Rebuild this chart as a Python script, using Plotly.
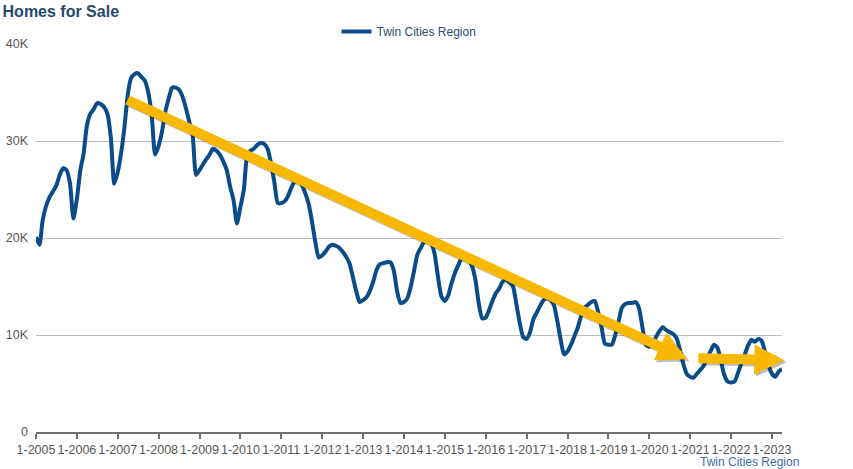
import plotly.graph_objects as go
import pandas as pd

series_name = "Twin Cities Region"
start_month = "2005-01-01"

# Homes for sale (thousands), by month
v2005 = [20.1, 19.3, 21.8, 23.3, 24.2, 24.8, 25.4, 26.5, 27.2, 27.0, 25.6, 22.0]
v2006 = [24.0, 27.0, 28.6, 31.6, 32.8, 33.3, 33.9, 33.8, 33.5, 32.8, 30.3, 25.6]
v2007 = [26.8, 28.8, 31.3, 34.8, 36.5, 36.9, 37.0, 36.6, 36.2, 35.0, 32.6, 28.6]
v2008 = [29.5, 31.0, 33.0, 34.4, 35.5, 35.5, 35.3, 34.6, 33.4, 32.0, 30.5, 26.5]
v2009 = [27.0, 27.6, 28.1, 28.6, 29.2, 29.0, 28.6, 27.9, 27.0, 25.3, 23.9, 21.5]
v2010 = [23.2, 25.0, 28.4, 29.0, 29.2, 29.6, 29.8, 29.7, 29.2, 27.7, 25.7, 23.6]
v2011 = [23.6, 23.8, 24.3, 25.2, 25.8, 25.9, 25.5, 24.7, 23.6, 21.8, 19.6, 18.0]
v2012 = [18.2, 18.6, 19.1, 19.3, 19.2, 19.0, 18.6, 18.1, 17.4, 16.0, 14.5, 13.4]
v2013 = [13.6, 13.9, 14.5, 15.5, 16.7, 17.3, 17.4, 17.5, 17.5, 16.7, 14.5, 13.3]
v2014 = [13.4, 13.8, 14.9, 16.6, 18.3, 19.0, 19.6, 19.8, 19.5, 18.4, 16.0, 14.0]
v2015 = [13.5, 14.1, 15.3, 16.4, 17.2, 17.9, 18.0, 17.7, 17.1, 15.7, 13.2, 11.7]
v2016 = [11.8, 12.6, 13.5, 14.3, 14.8, 15.5, 15.7, 15.4, 15.0, 13.2, 11.2, 9.8]
v2017 = [9.6, 10.3, 11.6, 12.3, 13.0, 13.6, 13.8, 13.6, 13.1, 11.5, 9.5, 8.0]
v2018 = [8.3, 9.0, 9.8, 10.7, 11.9, 12.8, 13.1, 13.4, 13.5, 12.4, 10.8, 9.1]
v2019 = [9.0, 9.0, 9.9, 11.3, 12.8, 13.2, 13.3, 13.3, 13.4, 12.8, 10.8, 9.0]
v2020 = [8.8, 9.1, 9.8, 10.4, 10.8, 10.5, 10.3, 10.1, 9.7, 8.5, 7.0, 6.0]
v2021 = [5.7, 5.6, 6.0, 6.4, 6.8, 7.6, 8.3, 9.0, 8.7, 7.4, 5.9, 5.2]
v2022 = [5.1, 5.2, 6.0, 7.0, 7.9, 8.9, 9.5, 9.3, 9.6, 9.4, 8.2, 6.9]
v2023 = [6.0, 5.7, 6.2, 6.5]

tick_years = list(range(2005, 2024))
tick_labels = [f"1-{y}" for y in tick_years]
y_ticks = [0, 10000, 20000, 30000, 40000]
y_labels = ["0", "10K", "20K", "30K", "40K"]

values_k = (v2005 + v2006 + v2007 + v2008 + v2009 + v2010 + v2011 + v2012 + v2013
            + v2014 + v2015 + v2016 + v2017 + v2018 + v2019 + v2020 + v2021 + v2022 + v2023)
values = [v * 1000 for v in values_k]
months = pd.date_range(start_month, periods=len(values), freq="MS")

FONT = "Liberation Sans, Arial, sans-serif"
LINE = "#0A4C8A"
ARROW = "#F8B800"

fig = go.Figure()
fig.add_trace(go.Scatter(
    x=months, y=values, mode="lines", name=series_name,
    line=dict(color=LINE, width=4, shape="spline", smoothing=0.6),
))

# Trend arrows (annotation: tip at x,y; tail at ax,ay)
arrows = [
    dict(tail=("2007-03-16", 34300), tip=("2020-12-07", 7500)),
    dict(tail=("2021-03-01", 7600), tip=("2023-04-22", 7400)),
]
anns = []
for a in arrows:
    for shadow in (True, False):
        anns.append(dict(
            x=a["tip"][0], y=a["tip"][1], ax=a["tail"][0], ay=a["tail"][1],
            xref="x", yref="y", axref="x", ayref="y", text="",
            showarrow=True, arrowhead=2, arrowsize=0.6, arrowwidth=10,
            arrowcolor="rgba(0,0,0,0.25)" if shadow else ARROW,
            xshift=2 if shadow else 0, yshift=-2 if shadow else 0,
        ))

anns.append(dict(
    text=series_name, xref="paper", yref="paper", x=1.026, y=-0.078,
    xanchor="right", yanchor="middle", showarrow=False,
    font=dict(family=FONT, size=12, color="#3D6EA8"),
))

fig.update_layout(
    width=853, height=469,
    margin=dict(l=36, r=71, t=44, b=37),
    paper_bgcolor="white", plot_bgcolor="white",
    title=dict(text="<b>Homes for Sale</b>", x=0.003, xanchor="left",
               y=0.987, yanchor="top",
               font=dict(family=FONT, size=16, color="#27496E")),
    showlegend=True,
    legend=dict(orientation="h", x=0.5, xanchor="center", y=0.995, yanchor="bottom",
                font=dict(family=FONT, size=12, color="#2C4B6E"),
                itemwidth=30, bgcolor="rgba(0,0,0,0)"),
    annotations=anns,
    xaxis=dict(
        range=[months[0], months[-1]],
        tickvals=[f"{y}-01-01" for y in tick_years], ticktext=tick_labels,
        tickangle=0, automargin=False,
        showgrid=False, zeroline=False,
        showline=True, linecolor="#707070", linewidth=2,
        ticks="outside", ticklen=5, tickwidth=2, tickcolor="#707070",
        tickfont=dict(family=FONT, size=12.5, color="#555555"),
    ),
    yaxis=dict(
        range=[0, 40000], tickvals=y_ticks, ticktext=y_labels,
        automargin=False,
        showgrid=True, gridcolor="#BDBDBD", gridwidth=1,
        zeroline=False, showline=False, ticks="", ticklabelstandoff=7,
        tickfont=dict(family=FONT, size=12.5, color="#555555"),
    ),
)

fig.write_html(
    "out.html",
    config={"displayModeBar": False},
    post_script="document.body.style.margin='0';document.body.style.overflow='hidden';",
)
